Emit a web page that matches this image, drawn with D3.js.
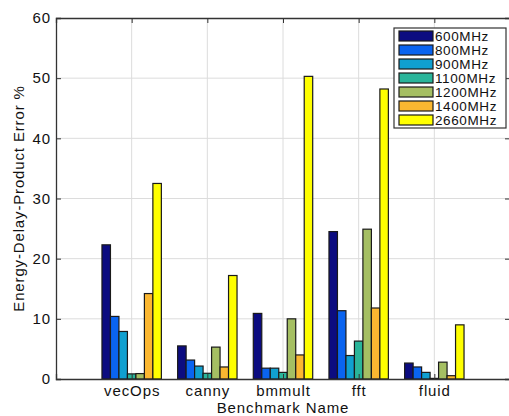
<!DOCTYPE html>
<html>
<head>
  <meta charset="utf-8">
  <title>Energy-Delay-Product Error</title>
  <script src="https://d3js.org/d3.v7.min.js"></script>
  <style>
    body { margin: 0; background: #fff; }
    text { font-family: "Liberation Sans", Arial, Helvetica, sans-serif; fill: #111; }
  </style>
</head>
<body>
  <svg id="chart" width="509" height="416"></svg>

  <script>
    // benchmarks on the x axis
    var benchmarks = ["vecOps", "canny", "bmmult", "fft", "fluid"];
    var freqs = ["600MHz", "800MHz", "900MHz", "1100MHz", "1200MHz", "1400MHz", "2660MHz"];
    var colors = ["#0c0c80", "#0a64f0", "#10a0d0", "#2ab59a", "#a5bf63", "#fbb731", "#ffff00"];

    // error % per frequency, one value per benchmark
    var mhz600  = [22.3, 5.5, 10.9, 24.5, 2.65];
    var mhz800  = [10.4, 3.15, 1.8, 11.35, 2.0];
    var mhz900  = [7.9, 2.15, 1.8, 3.9, 1.1];
    var mhz1100 = [0.85, 0.95, 1.1, 6.3, 0.1];
    var mhz1200 = [0.9, 5.3, 10.0, 24.9, 2.8];
    var mhz1400 = [14.2, 2.0, 4.0, 11.8, 0.55];
    var mhz2660 = [32.5, 17.2, 50.3, 48.2, 9.0];
    var series = [mhz600, mhz800, mhz900, mhz1100, mhz1200, mhz1400, mhz2660];

    var yTicks = [0, 10, 20, 30, 40, 50, 60];

    var svg = d3.select("#chart");
    var pLeft = 56, pRight = 510, pTop = 18, pBottom = 379;

    // categories sit at 1..5 on a 0..6 axis, like the original
    var x = d3.scaleLinear().domain([0, 6]).range([pLeft, pRight]);
    var y = d3.scaleLinear().domain([0, 60]).range([pBottom, pTop]);

    var groupW = 0.785;
    var inner = d3.scaleBand().domain(d3.range(freqs.length))
      .range([-groupW / 2, groupW / 2]).padding(0);
    var step = x(1) - x(0);

    // grid
    var grid = svg.append("g");
    grid.selectAll(".gy").data(yTicks.slice(1, -1)).enter().append("line")
      .attr("x1", pLeft).attr("x2", pRight)
      .attr("y1", d => y(d)).attr("y2", d => y(d))
      .attr("stroke", "#dcdcdc").attr("stroke-width", 1);
    grid.selectAll(".gx").data(benchmarks).enter().append("line")
      .attr("x1", (d, i) => x(i + 1)).attr("x2", (d, i) => x(i + 1))
      .attr("y1", pTop).attr("y2", pBottom)
      .attr("stroke", "#dcdcdc").attr("stroke-width", 1);

    // bars
    series.forEach(function(vals, s) {
      svg.append("g").selectAll("rect").data(vals).enter().append("rect")
        .attr("x", (d, i) => x(i + 1) + inner(s) * step)
        .attr("width", inner.bandwidth() * step)
        .attr("y", d => y(d))
        .attr("height", d => y(0) - y(d))
        .attr("fill", colors[s])
        .attr("stroke", "#1a1a1a")
        .attr("stroke-width", 1.2);
    });

    // axes: box with inward ticks
    var axisL = d3.axisLeft(y).tickValues(yTicks).tickSize(-5).tickPadding(5);
    var gL = svg.append("g").attr("transform", "translate(" + pLeft + ",0)").call(axisL);
    var gR = svg.append("g").attr("transform", "translate(" + pRight + ",0)")
      .call(d3.axisRight(y).tickValues(yTicks).tickSize(-5).tickFormat(""));
    var axisB = d3.axisBottom(x).tickValues([1, 2, 3, 4, 5])
      .tickFormat(d => benchmarks[d - 1]).tickSize(-5).tickPadding(6);
    var gB = svg.append("g").attr("transform", "translate(0," + pBottom + ")").call(axisB);
    var gT = svg.append("g").attr("transform", "translate(0," + pTop + ")")
      .call(d3.axisTop(x).tickValues([1, 2, 3, 4, 5]).tickSize(-5).tickFormat(""));

    [gL, gR, gB, gT].forEach(function(g) {
      g.select(".domain").attr("stroke", "#333").attr("stroke-width", 1.3);
      g.selectAll(".tick line").attr("stroke", "#333");
      g.selectAll(".tick text").style("font-size", "15px").attr("fill", "#111")
        .style("letter-spacing", "0.9px")
        .style("font-family", "'Liberation Sans', Arial, sans-serif");
    });

    // axis titles
    svg.append("text")
      .attr("x", (pLeft + pRight) / 2).attr("y", 413)
      .attr("text-anchor", "middle")
      .style("font-size", "15px").style("letter-spacing", "0.9px")
      .text("Benchmark Name");
    svg.append("text")
      .attr("transform", "translate(24," + ((pTop + pBottom) / 2) + ") rotate(-90)")
      .attr("text-anchor", "middle")
      .style("font-size", "15px").style("letter-spacing", "0.85px")
      .text("Energy-Delay-Product Error %");

    // legend
    var lg = svg.append("g").attr("transform", "translate(394,28)");
    lg.append("rect").attr("width", 112).attr("height", 100)
      .attr("fill", "#fff").attr("stroke", "#333").attr("stroke-width", 1.2);
    freqs.forEach(function(f, i) {
      var row = lg.append("g").attr("transform", "translate(0," + (8 + i * 14) + ")");
      row.append("rect").attr("x", 5).attr("y", -5).attr("width", 34).attr("height", 10)
        .attr("fill", colors[i]).attr("stroke", "#1a1a1a").attr("stroke-width", 1.2);
      row.append("text").attr("x", 41).attr("y", 5)
        .style("font-size", "13.5px").style("letter-spacing", "0.6px").text(f);
    });
  </script>
</body>
</html>
